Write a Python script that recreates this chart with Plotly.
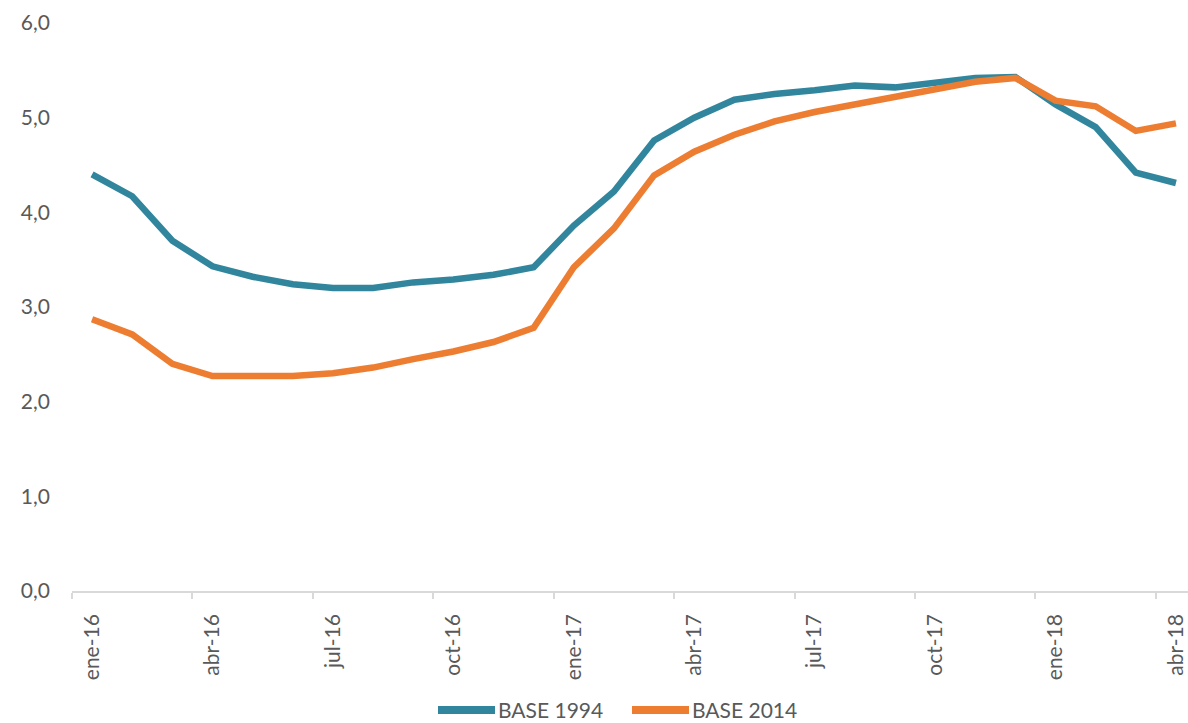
import plotly.graph_objects as go

months = ["ene-16", "feb-16", "mar-16", "abr-16", "may-16", "jun-16", "jul-16", "ago-16",
          "sep-16", "oct-16", "nov-16", "dic-16", "ene-17", "feb-17", "mar-17", "abr-17",
          "may-17", "jun-17", "jul-17", "ago-17", "sep-17", "oct-17", "nov-17", "dic-17",
          "ene-18", "feb-18", "mar-18", "abr-18"]

base_1994 = [4.40, 4.17, 3.70, 3.43, 3.32, 3.24, 3.20, 3.20, 3.26, 3.29, 3.34, 3.42,
             3.86, 4.22, 4.76, 5.00, 5.19, 5.25, 5.29, 5.34, 5.32, 5.37, 5.42, 5.43,
             5.14, 4.90, 4.42, 4.31]

base_2014 = [2.87, 2.71, 2.40, 2.27, 2.27, 2.27, 2.30, 2.36, 2.45, 2.53, 2.63, 2.78,
             3.42, 3.83, 4.39, 4.64, 4.82, 4.96, 5.06, 5.14, 5.21, 5.30, 5.38, 5.42,
             5.18, 5.12, 4.86, 4.94]

series_names = ["BASE 1994", "BASE 2014"]
series_colors = ["#31869E", "#ED7D31"]

y_ticks = [0, 1, 2, 3, 4, 5, 6]

x = list(range(len(months)))
label_idx = list(range(0, len(months), 3))

FONT = "Lato, 'Open Sans', sans-serif"
GREY = "#595959"

fig = go.Figure()
for name, vals, col in zip(series_names, [base_1994, base_2014], series_colors):
    fig.add_trace(go.Scatter(x=x, y=vals, mode="lines", name=name,
                             line=dict(color=col, width=6.5), showlegend=False))

# Manual legend (paper coordinates) to mimic the long line samples
W, H = 1188, 723
ML, MR, MT, MB = 72, 0, 23, 132
pw, ph = W - ML - MR, H - MT - MB


def px(xp):
    return (xp - ML) / pw


def py(yp):
    return (H - MB - yp) / ph


LEG_Y = 709
legend_items = [(438, 495, 497), (632, 689, 691)]
for (x0, x1, xt), name, col in zip(legend_items, series_names, series_colors):
    fig.add_shape(type="line", xref="paper", yref="paper",
                  x0=px(x0), x1=px(x1), y0=py(LEG_Y + 1), y1=py(LEG_Y + 1),
                  line=dict(color=col, width=8))
    fig.add_annotation(xref="paper", yref="paper", x=px(xt), y=py(LEG_Y),
                       xanchor="left", yanchor="middle", showarrow=False,
                       borderpad=0,
                       text=name, font=dict(size=21, color=GREY, family=FONT))

fig.update_layout(
    width=W, height=H,
    margin=dict(l=ML, r=MR, t=MT, b=MB, autoexpand=False),
    paper_bgcolor="white", plot_bgcolor="white",
    separators=",.",
    font=dict(family=FONT, color=GREY, size=21),
    showlegend=False,
    xaxis=dict(
        range=[-0.5, 27.3],
        tickmode="array",
        tickvals=label_idx,
        ticktext=[months[i] for i in label_idx],
        tickangle=-90,
        ticks="",
        ticklabelstandoff=13,
        ticklabeloverflow="allow",
        automargin=False,
        showgrid=False, zeroline=False,
        showline=True, linecolor="#D9D9D9", linewidth=1.5,
        tickfont=dict(size=21, color=GREY),
        minor=dict(tickmode="array", tickvals=[i - 0.5 for i in label_idx],
                   ticks="outside", ticklen=6, tickcolor="#D9D9D9", tickwidth=1.5,
                   showgrid=False),
    ),
    yaxis=dict(
        range=[0, 6],
        tickmode="array",
        tickvals=y_ticks,
        tickformat=".1f",
        automargin=False,
        showgrid=False, zeroline=False, showline=False,
        ticks="",
        ticklabelstandoff=21,
        tickfont=dict(size=21, color=GREY),
    ),
)

fig.write_html("out.html", config={"displayModeBar": False},
               post_script="document.body.style.margin='0';document.body.style.overflow='hidden';")
